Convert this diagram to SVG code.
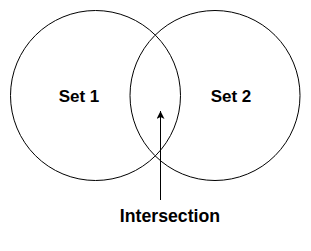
<svg xmlns="http://www.w3.org/2000/svg" width="311" height="251" viewBox="0 0 311 251">
<style>
.set{fill:none;stroke:#000;stroke-width:1}
.lbl{font-family:"Liberation Sans",Arial,sans-serif;font-weight:bold;font-size:17px;fill:#000;text-anchor:middle}
</style>
<defs>
<marker id="ah" viewBox="0 0 10 10" refX="10" refY="5" markerWidth="8" markerHeight="8" markerUnits="userSpaceOnUse" orient="auto">
<path d="M0,0 L10,5 L0,10 L2.5,5 Z" fill="#000"/>
</marker>
</defs>
<rect width="311" height="251" fill="#fff"/>
<g id="set1"><circle class="set" cx="95.5" cy="95.5" r="85"/><text class="lbl" x="79" y="101.5">Set 1</text></g>
<g id="set2"><circle class="set" cx="215" cy="95.5" r="85"/><text class="lbl" x="231" y="101.5">Set 2</text></g>
<g id="intersection"><text class="lbl" x="170" y="221.5" style="font-size:17.7px">Intersection</text></g>
<g id="connectors"><line x1="160.5" y1="200" x2="160.5" y2="111" stroke="#000" stroke-width="1" marker-end="url(#ah)"/></g>
</svg>
